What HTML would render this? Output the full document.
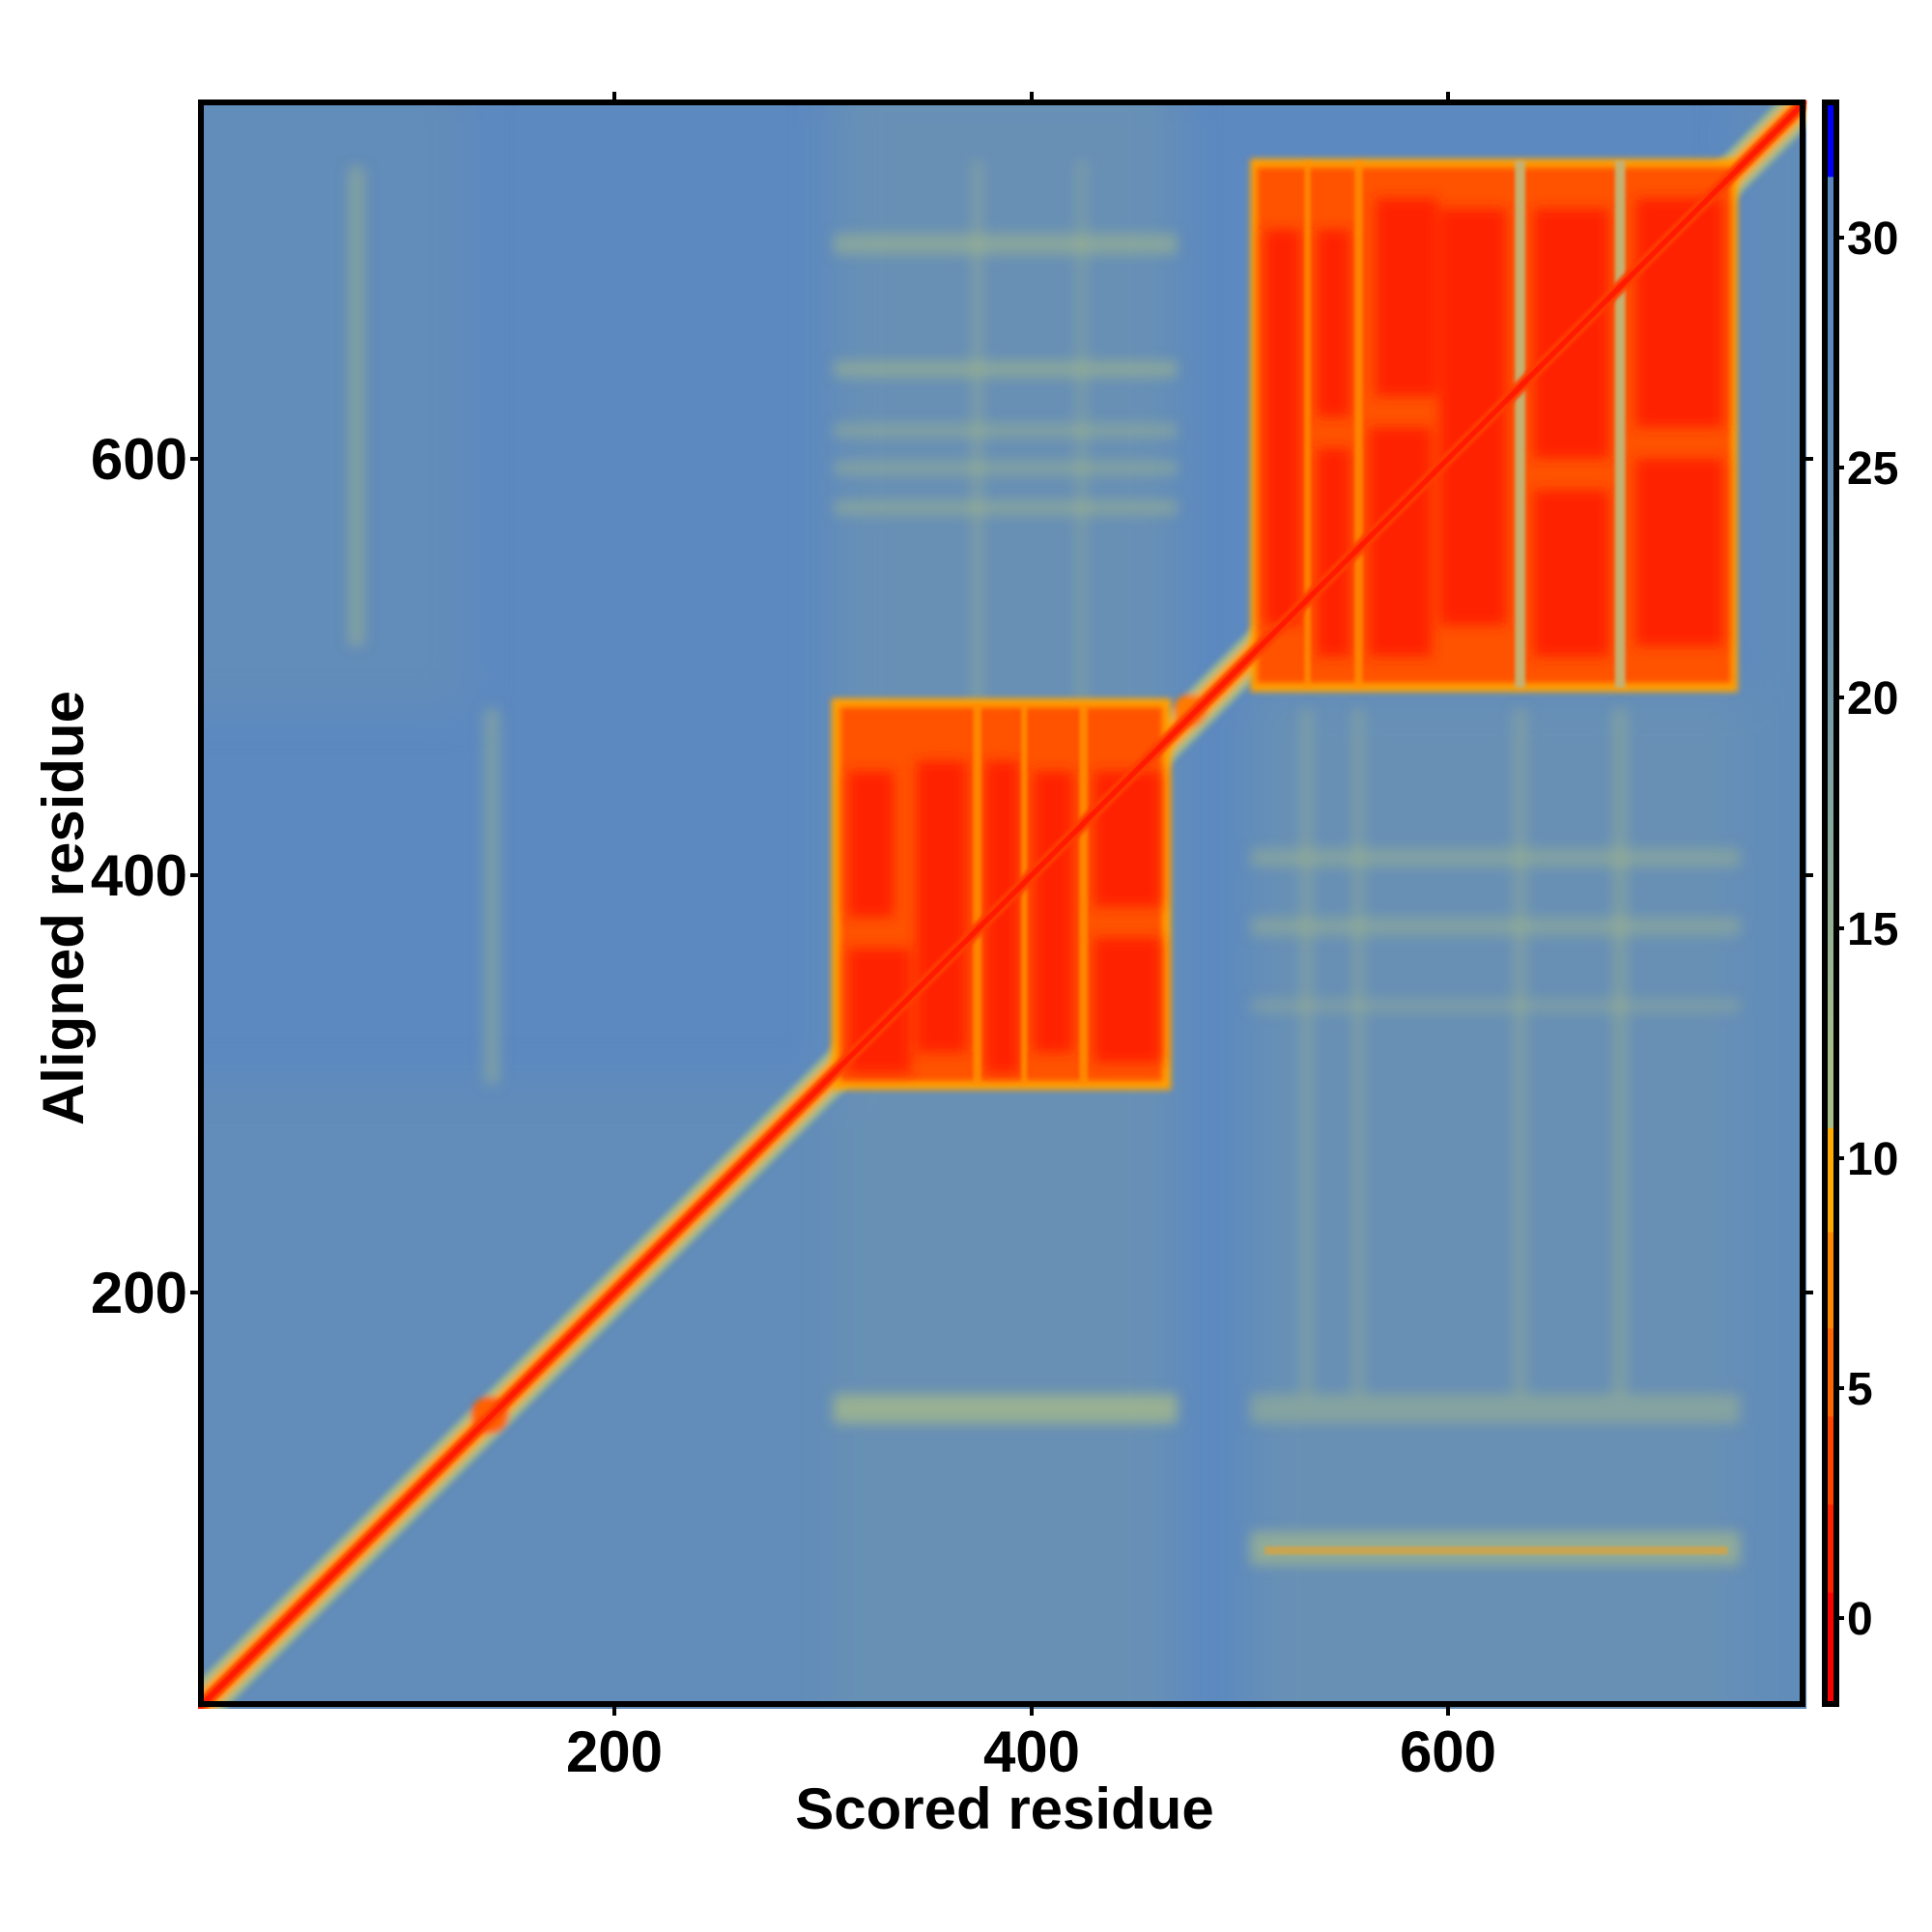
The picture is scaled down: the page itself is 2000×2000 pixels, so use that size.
<!DOCTYPE html>
<html><head><meta charset="utf-8"><style>
html,body{margin:0;padding:0;background:#fff}
svg{display:block}
text{font-family:"Liberation Sans",sans-serif;font-weight:bold;fill:#000}
</style></head><body>
<svg width="2000" height="2000" viewBox="0 0 2000 2000" xmlns="http://www.w3.org/2000/svg">
<defs>
<clipPath id="cp"><rect x="0" y="0" width="772" height="772"/></clipPath>
<filter id="b1" x="-20%" y="-20%" width="140%" height="140%"><feGaussianBlur stdDeviation="1.5"/></filter>
<filter id="b2" x="-20%" y="-20%" width="140%" height="140%"><feGaussianBlur stdDeviation="3"/></filter>
<filter id="b8" x="-20%" y="-20%" width="140%" height="140%"><feGaussianBlur stdDeviation="10"/></filter>
<filter id="b05"><feGaussianBlur stdDeviation="0.8"/></filter>
<linearGradient id="cb" x1="0" y1="0" x2="0" y2="1">
<stop offset="0" stop-color="#0000ff"/><stop offset="0.046" stop-color="#0000ff"/>
<stop offset="0.047" stop-color="#5a86c0"/><stop offset="0.16" stop-color="#5b88bc"/>
<stop offset="0.33" stop-color="#6a95b0"/><stop offset="0.45" stop-color="#86a79e"/>
<stop offset="0.6" stop-color="#a7bd88"/><stop offset="0.64" stop-color="#a7bd88"/>
<stop offset="0.641" stop-color="#ffaa00"/><stop offset="0.705" stop-color="#ffaa00"/>
<stop offset="0.706" stop-color="#ff8800"/><stop offset="0.765" stop-color="#ff8800"/>
<stop offset="0.766" stop-color="#ff6600"/><stop offset="0.82" stop-color="#ff6600"/>
<stop offset="0.821" stop-color="#ff4400"/><stop offset="0.875" stop-color="#ff4400"/>
<stop offset="0.876" stop-color="#ff2200"/><stop offset="0.93" stop-color="#ff2200"/>
<stop offset="0.931" stop-color="#ff0000"/><stop offset="1" stop-color="#ff0000"/>
</linearGradient>
</defs>

<g transform="translate(205,1769) scale(2.157,-2.157)">
<g clip-path="url(#cp)">
<rect x="0" y="0" width="772" height="772" fill="#5c89c0"/>
<g filter="url(#b8)" opacity="0.5">
<rect x="305" y="-20" width="165" height="810" fill="#7598ab"/>
<rect x="505" y="-20" width="240" height="510" fill="#7598ab"/>
<rect x="-20" y="-20" width="325" height="320" fill="#6890b3"/>
<rect x="-20" y="480" width="150" height="310" fill="#6890b3"/>
<rect x="740" y="-20" width="40" height="810" fill="#6890b3"/>
</g>
<g filter="url(#b2)" fill="#a8bb88">
<rect x="72" y="510" width="8" height="230" opacity="0.45"/>
<rect x="137" y="300" width="8" height="180" opacity="0.4"/>
<rect x="305" y="698" width="165" height="10" opacity="0.5"/>
<rect x="305" y="639" width="165" height="8" opacity="0.5"/>
<rect x="305" y="610" width="165" height="7" opacity="0.4"/>
<rect x="305" y="592" width="165" height="7" opacity="0.4"/>
<rect x="305" y="573" width="165" height="7" opacity="0.45"/>
<rect x="305" y="137" width="165" height="14" opacity="0.75"/>
<rect x="505" y="137" width="235" height="14" opacity="0.45"/>
<rect x="505" y="404" width="235" height="9" opacity="0.4"/>
<rect x="505" y="371" width="235" height="9" opacity="0.4"/>
<rect x="505" y="334" width="235" height="7" opacity="0.3"/>
<rect x="529" y="150" width="6" height="330" opacity="0.3"/>
<rect x="554" y="150" width="6" height="330" opacity="0.3"/>
<rect x="631" y="150" width="7" height="330" opacity="0.3"/>
<rect x="679" y="150" width="7" height="330" opacity="0.35"/>
<rect x="371" y="483" width="6" height="260" opacity="0.3"/>
<rect x="421" y="483" width="6" height="260" opacity="0.25"/>
<rect x="505" y="69" width="235" height="16" opacity="0.65"/>
</g>
<rect x="512" y="74" width="222" height="4" fill="#f0a020" opacity="0.6" filter="url(#b05)"/>
<!-- diagonal halo -->
<g filter="url(#b1)">
<line x1="-10" y1="-10" x2="782" y2="782" stroke="#a9bd86" stroke-width="18"/>
<line x1="-10" y1="-10" x2="782" y2="782" stroke="#ffa000" stroke-width="11"/>
<circle cx="140" cy="141" r="9" fill="#ff6000"/>
<circle cx="476" cy="479" r="8" fill="#ff7a00"/>
</g>
<!-- block 1 -->
<g filter="url(#b1)">
<rect x="304" y="297" width="163" height="188" fill="#ffa000"/>
<rect x="308" y="301" width="155" height="180" fill="#ff5200"/>
</g>
<g filter="url(#b2)" fill="#ff2400">
<rect x="312" y="305" width="30" height="60"/>
<rect x="345" y="315" width="24" height="140"/>
<rect x="312" y="380" width="22" height="70"/>
<rect x="378" y="305" width="16" height="150"/>
<rect x="401" y="315" width="19" height="135"/>
<rect x="430" y="310" width="32" height="60"/>
<rect x="430" y="385" width="32" height="65"/>
</g>
<g filter="url(#b05)" fill="#ff9000" opacity="0.85">
<rect x="372" y="300" width="4" height="182"/>
<rect x="395" y="300" width="3" height="182"/>
<rect x="423" y="300" width="4" height="182"/>
</g>
<!-- block 2 -->
<g filter="url(#b1)">
<rect x="505" y="488" width="234" height="256" fill="#ffa000"/>
<rect x="508" y="492" width="228" height="248" fill="#ff5200"/>
</g>
<g filter="url(#b2)" fill="#ff2400">
<rect x="512" y="520" width="17" height="190"/>
<rect x="537" y="505" width="16" height="100"/>
<rect x="537" y="620" width="16" height="90"/>
<rect x="562" y="505" width="30" height="110"/>
<rect x="596" y="520" width="32" height="200"/>
<rect x="565" y="630" width="30" height="95"/>
<rect x="641" y="505" width="36" height="80"/>
<rect x="641" y="600" width="36" height="120"/>
<rect x="690" y="510" width="42" height="90"/>
<rect x="690" y="615" width="42" height="110"/>
</g>
<g filter="url(#b05)">
<rect x="531" y="490" width="3" height="253" fill="#ff9000" opacity="0.8"/>
<rect x="555" y="490" width="4" height="253" fill="#ff9000" opacity="0.8"/>
<rect x="632" y="490" width="5" height="253" fill="#c4b070"/>
<rect x="680" y="490" width="5" height="253" fill="#c4b070"/>
</g>
<!-- diagonal core -->
<line x1="-10" y1="-10" x2="782" y2="782" stroke="#ff3c00" stroke-width="6" filter="url(#b05)"/>
<line x1="-10" y1="-10" x2="782" y2="782" stroke="#ff1a00" stroke-width="2.5"/>
</g>
</g>

<rect x="208" y="106" width="1658" height="1658" fill="none" stroke="#000" stroke-width="6"/>
<g stroke="#000" stroke-width="4">
<line x1="636" y1="1767" x2="636" y2="1776"/><line x1="1068" y1="1767" x2="1068" y2="1776"/><line x1="1499" y1="1767" x2="1499" y2="1776"/>
<line x1="636" y1="103" x2="636" y2="95"/><line x1="1068" y1="103" x2="1068" y2="95"/><line x1="1499" y1="103" x2="1499" y2="95"/>
<line x1="205" y1="1338" x2="197" y2="1338"/><line x1="205" y1="906" x2="197" y2="906"/><line x1="205" y1="475" x2="197" y2="475"/>
<line x1="1869" y1="1338" x2="1877" y2="1338"/><line x1="1869" y1="906" x2="1877" y2="906"/><line x1="1869" y1="475" x2="1877" y2="475"/>
</g>
<g font-size="60" text-anchor="middle">
<text x="636" y="1834">200</text><text x="1068" y="1834">400</text><text x="1499" y="1834">600</text>
</g>
<g font-size="60" text-anchor="end">
<text x="194" y="1359">200</text><text x="194" y="927">400</text><text x="194" y="496">600</text>
</g>
<text x="1040" y="1893" font-size="60" text-anchor="middle">Scored residue</text>
<text transform="translate(86,940) rotate(-90)" font-size="60" text-anchor="middle">Aligned residue</text>

<rect x="1889" y="106" width="12" height="1658" fill="url(#cb)" stroke="#000" stroke-width="6"/>
<g stroke="#000" stroke-width="4">
<line x1="1901" y1="1675" x2="1909" y2="1675"/><line x1="1901" y1="1437" x2="1909" y2="1437"/><line x1="1901" y1="1199" x2="1909" y2="1199"/>
<line x1="1901" y1="961" x2="1909" y2="961"/><line x1="1901" y1="722" x2="1909" y2="722"/><line x1="1901" y1="484" x2="1909" y2="484"/><line x1="1901" y1="246" x2="1909" y2="246"/>
</g>
<g font-size="48">
<text x="1912" y="1692">0</text><text x="1912" y="1454">5</text><text x="1912" y="1216">10</text>
<text x="1912" y="978">15</text><text x="1912" y="739">20</text><text x="1912" y="501">25</text><text x="1912" y="263">30</text>
</g>
</svg>
</body></html>
